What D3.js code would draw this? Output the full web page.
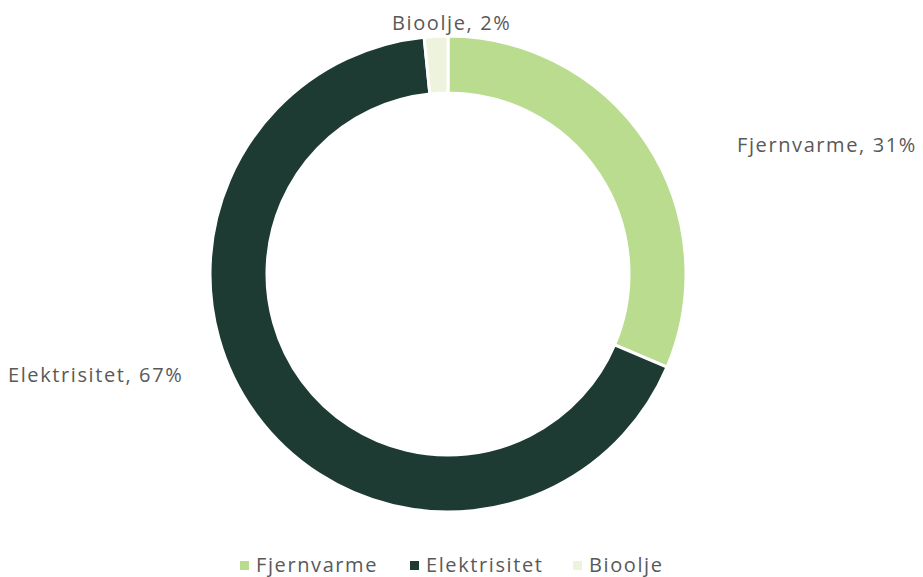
<!DOCTYPE html>
<html><head><meta charset="utf-8">
<script src="https://cdn.jsdelivr.net/npm/d3@7"></script>
<style>body{margin:0;background:#fff}svg{display:block}text{font-family:"Open Sans",sans-serif;fill:#595959;letter-spacing:1.6px}</style>
</head><body>
<svg id="c" width="923" height="577"></svg>
<script>
const categories = ["Fjernvarme", "Elektrisitet", "Bioolje"];
const values = [31.4, 67.0, 1.6];
const percentLabels = ["31%", "67%", "2%"];
const colors = ["#b9dc8f", "#1e3b33", "#eef3de"];

const svg = d3.select("#c");
const cx = 448, cy = 274, rOuter = 238, rInner = 181;
const pie = d3.pie().sort(null).value(d => d)(values);
const arc = d3.arc().innerRadius(rInner).outerRadius(rOuter);
const g = svg.append("g").attr("transform", `translate(${cx},${cy})`);
g.selectAll("path").data(pie).join("path")
  .attr("d", arc).attr("fill", (d,i)=>colors[i])
  .attr("stroke", "#fff").attr("stroke-width", 3);

const FS = 20;
const labelPos = [
  {x: 737, y: 145},
  {x: 8, y: 375},
  {x: 392, y: 23}
];
svg.selectAll("text.lbl").data(categories).join("text")
  .attr("class","lbl")
  .attr("x",(d,i)=>labelPos[i].x).attr("y",(d,i)=>labelPos[i].y)
  .attr("dy","0.35em").attr("text-anchor","start")
  .attr("font-size",FS)
  .text((d,i)=>`${d}, ${percentLabels[i]}`);

const legX = [240, 410, 573];
const lg = svg.append("g");
categories.forEach((c,i)=>{
  lg.append("rect").attr("x",legX[i]).attr("y",561).attr("width",9).attr("height",9).attr("fill",colors[i]);
  lg.append("text").attr("x",legX[i]+16).attr("y",565).attr("dy","0.35em").attr("font-size",FS).text(c);
});
</script>
</body></html>
